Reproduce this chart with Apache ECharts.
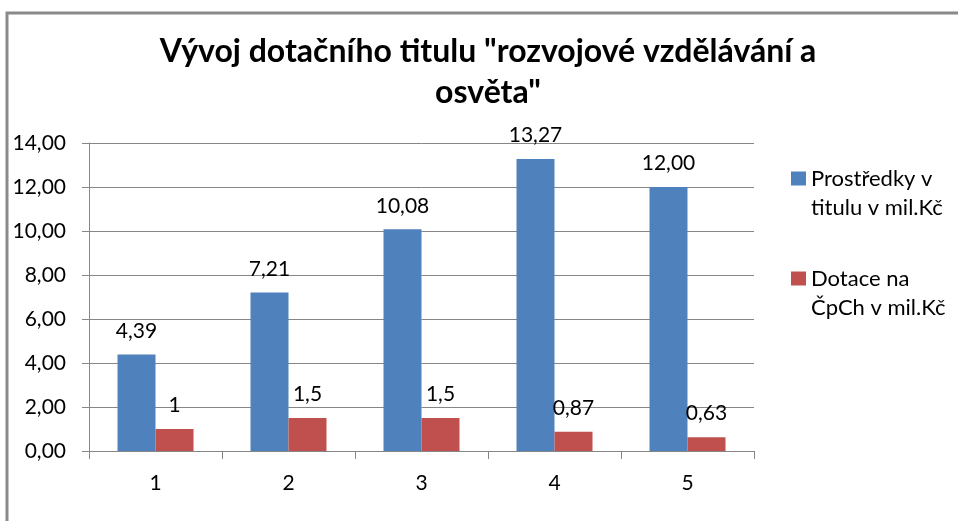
<!DOCTYPE html>
<html>
<head>
<meta charset="utf-8">
<script src="https://cdn.jsdelivr.net/npm/echarts@6/dist/echarts.min.js"></script>
<style>
html,body{margin:0;padding:0;background:#fff;}
#chart{width:958px;height:521px;}
</style>
</head>
<body>
<div id="chart"></div>
<script>
var titleText = 'Vývoj dotačního titulu "rozvojové vzdělávání a\nosvěta"';
var categories = ['1', '2', '3', '4', '5'];
var seriesNames = ['Prostředky v titulu v mil.Kč', 'Dotace na ČpCh v mil.Kč'];
var legendLabels = ['Prostředky v\ntitulu v mil.Kč', 'Dotace na\nČpCh v mil.Kč'];
var prostredky = [4.39, 7.21, 10.08, 13.27, 12.00];
var dotace = [1, 1.5, 1.5, 0.87, 0.63];
var yTicks = {min: 0, max: 14, interval: 2};

var FONT = 'Lato';
var chart = echarts.init(document.getElementById('chart'));
function comma(s){ return String(s).replace('.', ','); }

chart.setOption({
  backgroundColor: '#fff',
  textStyle: {fontFamily: FONT, color: '#000'},
  animation: false,
  title: {
    text: titleText,
    left: 483, top: 26,
    textAlign: 'center',
    textStyle: {fontFamily: FONT, fontSize: 32, fontWeight: 'bold', color: '#000', lineHeight: 41}
  },
  graphic: [{
    type: 'polyline',
    shape: {points: [[7, 521], [7, 13], [958, 13]]},
    style: {stroke: '#8a8a8a', lineWidth: 3, fill: null}
  }],
  legend: {
    orient: 'vertical',
    left: 786, top: 130,
    itemWidth: 15, itemHeight: 14,
    itemGap: 13,
    icon: 'rect',
    formatter: function(name){ return '\n' + legendLabels[seriesNames.indexOf(name)]; },
    textStyle: {fontFamily: FONT, fontSize: 22, color: '#000', lineHeight: 29},
    data: seriesNames
  },
  grid: {left: 89, right: 204, top: 143, bottom: 70, containLabel: false},
  xAxis: {
    type: 'category',
    data: categories,
    axisLine: {lineStyle: {color: '#868686', width: 1}},
    axisTick: {show: true, length: 8, lineStyle: {color: '#868686'}},
    axisLabel: {fontFamily: FONT, fontSize: 21, color: '#000', margin: 22}
  },
  yAxis: {
    type: 'value',
    min: yTicks.min, max: yTicks.max, interval: yTicks.interval,
    axisLine: {show: true, lineStyle: {color: '#868686', width: 1}},
    axisTick: {show: true, length: 7, lineStyle: {color: '#868686'}},
    splitLine: {show: true, lineStyle: {color: '#868686', width: 1}},
    axisLabel: {fontFamily: FONT, fontSize: 21, color: '#000', margin: 23,
      formatter: function(v){ return comma(v.toFixed(2)); }}
  },
  series: [{
    name: seriesNames[0],
    type: 'bar',
    data: prostredky,
    barWidth: 38,
    barGap: '0%',
    itemStyle: {color: '#4F81BD'},
    label: {show: true, position: 'top', distance: 13, fontFamily: FONT, fontSize: 21, color: '#000',
      formatter: function(p){ return comma(p.value.toFixed(2)); }}
  }, {
    name: seriesNames[1],
    type: 'bar',
    data: dotace,
    barWidth: 38,
    barGap: '0%',
    itemStyle: {color: '#C0504D'},
    label: {show: true, position: 'top', distance: 13, fontFamily: FONT, fontSize: 21, color: '#000',
      formatter: function(p){ return comma(p.value); }}
  }]
});
</script>
</body>
</html>
